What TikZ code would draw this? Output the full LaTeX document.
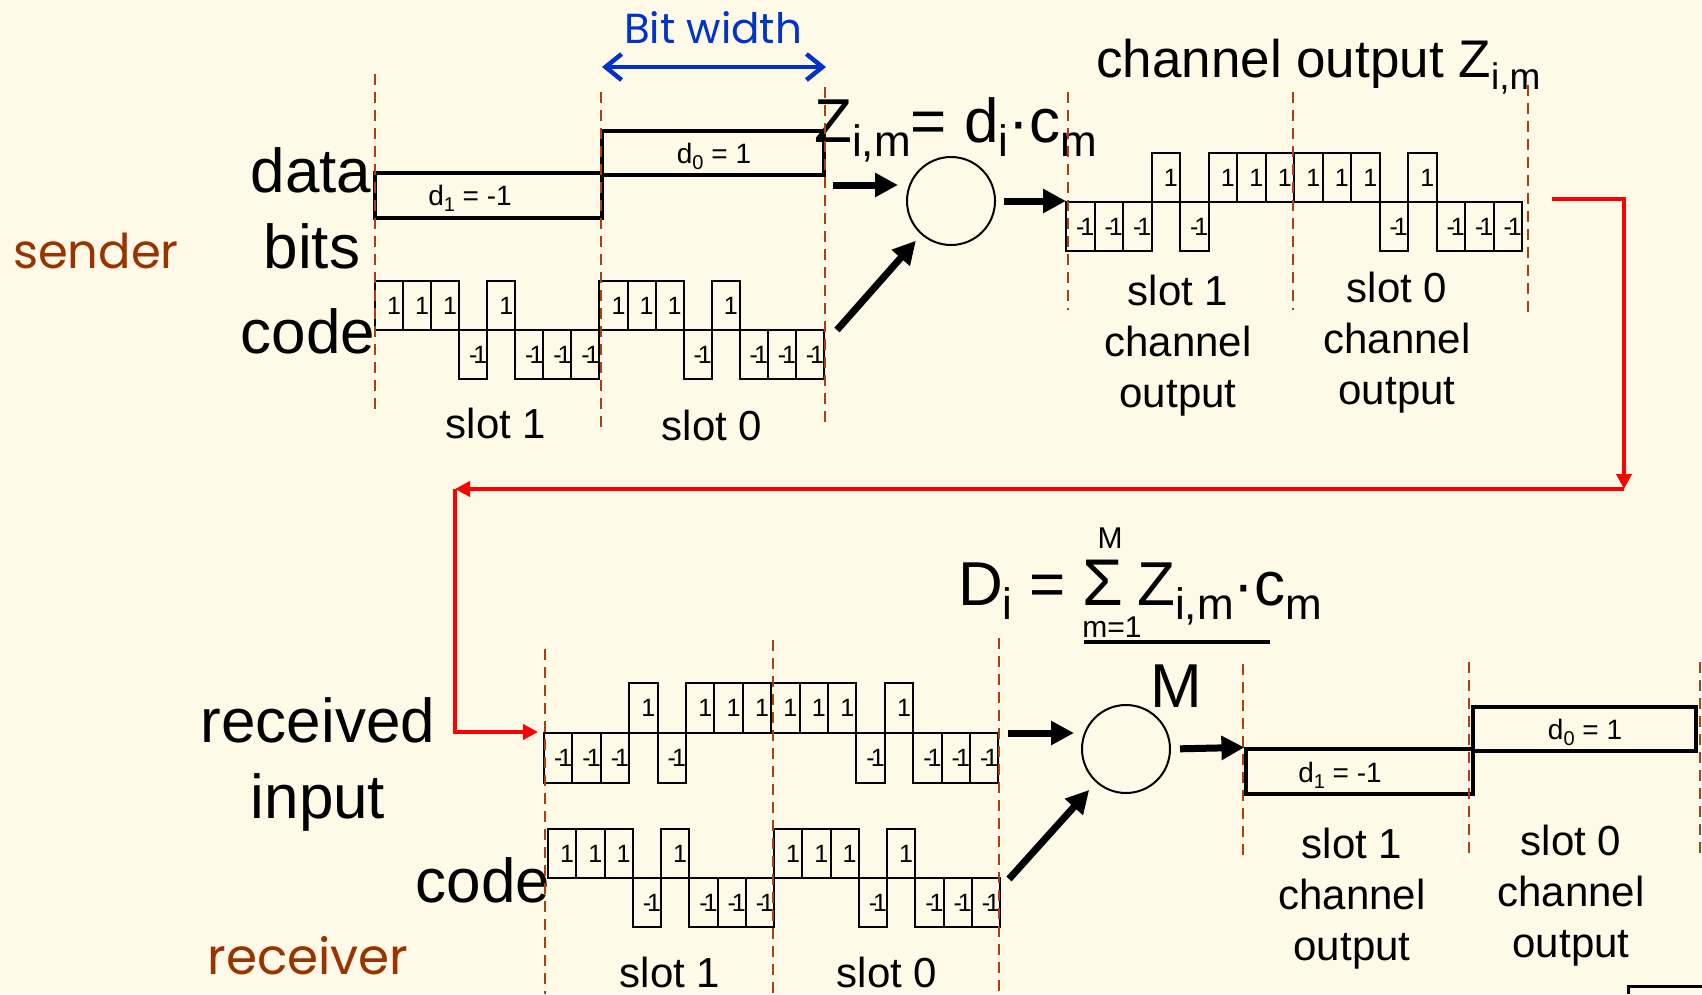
\documentclass[tikz,border=0pt]{standalone}
\usepackage{fontspec}
\setmainfont{Liberation Sans}
\newfontfamily\handfont{Poppins}
\usetikzlibrary{arrows.meta,positioning}

\definecolor{bgcream}{RGB}{255,249,231}
\definecolor{slotbrown}{RGB}{168,64,16}
\definecolor{sidebrown}{RGB}{153,51,0}
\definecolor{bitblue}{RGB}{0,51,204}

\newcommand\lowtxt[2][44]{\raisebox{-0.24em}{\fontsize{#1}{#1}\selectfont #2}}
\newcommand\mone{-\kern-0.16em1}
% chip waveform: name, x0, baseline, chip width, height, chips
\newcommand\chipwave[6]{%
  \foreach \cv [count=\ci from 0] in {#6}{%
    \draw[chipbox] ({#2+\ci*#4},#3) rectangle ({#2+(\ci+1)*#4},{#3-(\cv)*#5});
    \node[chiplbl] (#1-\ci) at ({#2+(\ci+0.5)*#4+5},{#3-(\cv)*#5/2}) {\ifnum\cv>0 1\else\mone\fi};
  }%
}

\begin{document}
\begin{tikzpicture}[
    x=1pt, y=-1pt,
    lbl/.style={font=\fontsize{62}{74}\selectfont, inner sep=0pt, anchor=base},
    slotlbl/.style={font=\fontsize{42}{51}\selectfont, inner sep=0pt, align=center},
    limlbl/.style={font=\fontsize{30}{30}\selectfont, inner sep=0pt},
    chiplbl/.style={font=\fontsize{25}{25}\selectfont, inner sep=0pt},
    chipbox/.style={draw=black, line width=2pt},
    databox/.style={draw, line width=3.2pt, inner sep=0pt},
    dtext/.style={font=\fontsize{28}{28}\selectfont, inner sep=0pt, anchor=base},
    hand/.style={font=\handfont\fontsize{48}{56}\selectfont, text=sidebrown, inner sep=0pt, anchor=base},
    mixer/.style={circle, draw, line width=2pt, minimum size=88pt, inner sep=0pt},
    slotline/.style={draw=slotbrown, line width=2.8pt, dash pattern=on 11pt off 7pt},
    bigarrow/.style={-{Triangle[length=23pt,width=23pt]}, line width=7pt},
    redarrow/.style={-{Triangle[length=15pt,width=15pt]}, draw=red, line width=4.5pt},
    bitarrow/.style={{Straight Barb[length=16pt,width=26pt]}-{Straight Barb[length=16pt,width=26pt]}, draw=bitblue, line width=4.5pt}
  ]
  \fill[bgcream] (0,0) rectangle (1702,994);
  \useasboundingbox (0,0) rectangle (1702,994);

  % sender side
  \node[hand] (sender) at (96,268) {sender};
  \node[lbl] (data) at (311,192) {data};
  \node[lbl] (bits) at (312,268) {bits};
  \node[lbl] (code) at (308,353) {code};

  \node[hand, font=\handfont\fontsize{42}{48}\selectfont, text=bitblue] (bitw) at (713,43) {Bit width};
  \coordinate (bwl) at (602,67);
  \coordinate (bwr) at (826,67);
  \draw[bitarrow] (bwl) -- (bwr);

  \node[databox, minimum width=227pt, minimum height=45pt] (sd1) at (488.5,195.5) {};
  \node[databox, minimum width=222pt, minimum height=44pt] (sd0) at (713,153) {};
  \node[dtext] (sd1t) at (470,205) {d\lowtxt[20]{1} = -1};
  \node[dtext] (sd0t) at (714,163) {d\lowtxt[20]{0} = 1};

  \chipwave{code}{375}{330}{28.06}{49}{1,1,1,-1,1,-1,-1,-1,1,1,1,-1,1,-1,-1,-1}
  \node[slotlbl, anchor=base] (s1) at (496,438) {slot 1};
  \node[slotlbl, anchor=base] (s0) at (712,440) {slot 0};

  \node[lbl, anchor=base west] (zform) at (814,142) {Z\lowtxt{i,m}= d\lowtxt{i}·c\lowtxt{m}};
  \node[mixer] (mix) at (951,201) {};

  % channel output
  \node[lbl, anchor=base west, font=\fontsize{53}{60}\selectfont] (chanlbl) at (1096,77) {channel output Z\lowtxt[37]{i,m}};
  \chipwave{chan}{1066}{202}{28.5}{49}{-1,-1,-1,1,-1,1,1,1,1,1,1,-1,1,-1,-1,-1}
  \node[slotlbl] (c1) at (1178,346) {slot 1\\channel\\output};
  \node[slotlbl] (c0) at (1397,343) {slot 0\\channel\\output};

  \coordinate (dtail) at (833,185);
  \coordinate (ctail) at (837,330);
  \coordinate (chanin) at (1066,201);
  \draw[bigarrow, shorten >=8pt] (dtail) -- (dtail -| mix.west);
  \draw[bigarrow, shorten >=8pt] (ctail) -- (mix);
  \draw[bigarrow, shorten <=8pt] (mix.east) -- (chanin);

  % red path to the receiver
  \coordinate (rstart) at (1552,199);
  \coordinate (rturn) at (1624,489);
  \coordinate (lturn) at (455,489);
  \coordinate (recvin) at (538,732);
  \draw[redarrow] (rstart) -| (rturn);
  \draw[redarrow] (rturn) -- (lturn);
  \draw[redarrow] (lturn) |- (recvin);

  % receiver side
  \node[lbl] (rcvd) at (318,742) {received};
  \node[lbl] (input) at (318,818) {input};
  \node[lbl] (rcode) at (483,902) {code};
  \node[hand, font=\handfont\fontsize{50}{56}\selectfont] (receiver) at (308,974) {receiver};

  \chipwave{recv}{544}{733}{28.4}{50}{-1,-1,-1,1,-1,1,1,1,1,1,1,-1,1,-1,-1,-1}
  \chipwave{rc}{548}{878}{28.25}{49}{1,1,1,-1,1,-1,-1,-1,1,1,1,-1,1,-1,-1,-1}
  \node[slotlbl, anchor=base] (r1) at (670,987) {slot 1};
  \node[slotlbl, anchor=base] (r0) at (887,987) {slot 0};

  \node[lbl, anchor=base west] (dlhs) at (958,605) {D\lowtxt{i} =};
  \node[lbl, font=\fontsize{66}{74}\selectfont] (sigma) at (1103,605) {Σ};
  \node[limlbl] (sigtop) at (1110,538) {M};
  \node[limlbl] (sigbot) at (1112,627) {m=1};
  \node[lbl, anchor=base west] (dnum) at (1137,605) {Z\lowtxt{i,m}·c\lowtxt{m}};
  \draw[line width=4pt] (1084,642) -- (1270,642);
  \node[lbl] (dden) at (1176,707) {M};
  \node[mixer] (rcv) at (1126,749) {};

  \node[databox, minimum width=227pt, minimum height=45pt] (od1) at (1359.5,771.5) {};
  \node[databox, minimum width=223pt, minimum height=44pt] (od0) at (1584.5,729) {};
  \node[dtext] (od1t) at (1340,782) {d\lowtxt[20]{1} = -1};
  \node[dtext] (od0t) at (1585,739) {d\lowtxt[20]{0} = 1};
  \node[slotlbl] (o1) at (1352,899) {slot 1\\channel\\output};
  \node[slotlbl] (o0) at (1571,896) {slot 0\\channel\\output};

  \coordinate (recvout) at (998,733);
  \coordinate (rctail) at (1009,879);
  \draw[bigarrow, shorten <=10pt, shorten >=7pt] (recvout) -- (recvout -| rcv.west);
  \draw[bigarrow, shorten >=10pt] (rctail) -- (rcv);
  \draw[bigarrow, shorten <=9pt] (rcv.east) -- (od1.north west);

  % slot boundaries
  \foreach \x/\ya/\yb in {375/74/415, 601/92/432, 825/87/429, 1068/92/310, 1293/92/310, 1528/85/312,
      545/649/994, 773/640/994, 999/638/994, 1243/664/862, 1469/662/858, 1700/662/860}
    \draw[slotline] (\x,\ya) -- (\x,\yb);

  \draw[line width=3pt] (1628,994) |- (1702,986);
\end{tikzpicture}
\end{document}
